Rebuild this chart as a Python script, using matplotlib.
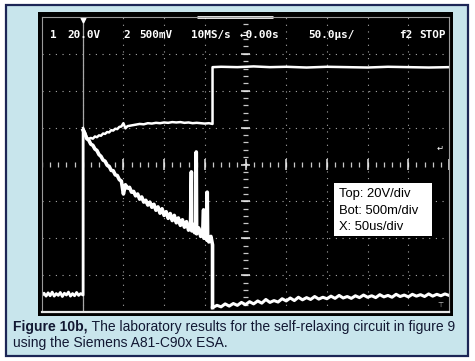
import matplotlib
matplotlib.use("Agg")
from matplotlib import pyplot as plt
from matplotlib.patches import Rectangle
import numpy as np

W, H = 475, 361

# scope screen: 10 x 8 divisions, x in div (50us/div), y in div
# channel 1 (top, 20V/div) after the trigger
ch1_x = [1.01, 1.05, 1.10, 1.15, 1.20, 1.25, 1.30, 1.35, 1.40, 1.45, 1.50, 1.55, 1.60, 1.65,
         1.70, 1.75, 1.80, 1.85, 1.90, 1.95, 2.00, 2.05, 2.10, 2.20, 2.30, 2.40, 2.50, 2.60,
         2.70, 2.80, 2.90, 3.00, 3.10, 3.20, 3.30, 3.40, 3.50, 3.60, 3.70, 3.80, 3.90, 4.00,
         4.10, 4.19, 4.19, 4.40, 4.80, 5.20, 5.60, 6.00, 6.50, 7.00, 7.50, 8.00, 8.50, 9.00,
         9.50, 10.0]
ch1_y = [0.99, 0.88, 0.72, 0.70, 0.72, 0.70, 0.76, 0.74, 0.79, 0.78, 0.84, 0.83, 0.88, 0.87,
         0.93, 0.92, 0.97, 0.96, 1.02, 1.03, 1.12, 0.98, 1.04, 1.06, 1.08, 1.10, 1.09, 1.12,
         1.11, 1.13, 1.12, 1.14, 1.13, 1.15, 1.14, 1.15, 1.13, 1.14, 1.12, 1.13, 1.12, 1.11,
         1.12, 1.10, 2.64, 2.65, 2.64, 2.66, 2.64, 2.65, 2.63, 2.65, 2.64, 2.63, 2.65, 2.64,
         2.63, 2.64]

# channel 2 (bottom, 500mV/div) before the trigger
ch2_pre_x = [0.00, 0.05, 0.10, 0.15, 0.20, 0.25, 0.30, 0.35, 0.40, 0.45, 0.50, 0.55, 0.60,
             0.65, 0.70, 0.75, 0.80, 0.85, 0.90, 0.95, 1.01, 1.01]
ch2_pre_y = [-3.55, -3.49, -3.57, -3.48, -3.56, -3.46, -3.57, -3.50, -3.55, -3.47, -3.58,
             -3.49, -3.54, -3.46, -3.57, -3.50, -3.56, -3.47, -3.55, -3.50, -3.54, 0.93]

# channel 2 decay with the spikes near the switch-off
ch2_x = [1.01, 1.05, 1.10, 1.15, 1.20, 1.25, 1.30, 1.35, 1.40, 1.45, 1.50, 1.55, 1.60, 1.65,
         1.70, 1.75, 1.80, 1.85, 1.90, 1.95, 2.00, 2.05, 2.10, 2.15, 2.20, 2.25, 2.30, 2.35,
         2.40, 2.45, 2.50, 2.55, 2.60, 2.65, 2.70, 2.75, 2.80, 2.85, 2.90, 2.95, 3.00, 3.05,
         3.10, 3.15, 3.20, 3.25, 3.30, 3.35, 3.40, 3.45, 3.50, 3.55, 3.60, 3.65, 3.67, 3.68,
         3.70, 3.75, 3.78, 3.79, 3.80, 3.85, 3.90, 3.95, 3.97, 3.98, 4.00, 4.05, 4.06, 4.07,
         4.10, 4.15, 4.19, 4.19]
ch2_y = [0.93, 0.85, 0.70, 0.66, 0.55, 0.52, 0.42, 0.38, 0.27, 0.22, 0.12, 0.09, -0.02, -0.05,
         -0.16, -0.17, -0.28, -0.30, -0.41, -0.45, -0.80, -0.55, -0.64, -0.62, -0.75, -0.73,
         -0.85, -0.80, -0.94, -0.88, -1.02, -0.97, -1.10, -1.02, -1.16, -1.08, -1.24, -1.15,
         -1.32, -1.20, -1.38, -1.28, -1.46, -1.33, -1.52, -1.38, -1.58, -1.45, -1.65, -1.50,
         -1.70, -1.55, -1.78, -1.60, -0.20, -1.80, -1.62, -1.85, -1.70, 0.34, -1.88, -1.72,
         -1.95, -1.80, -1.23, -2.00, -1.85, -2.05, -0.75, -2.00, -2.10, -1.95, -2.18, -3.88]

# channel 2 after the switch-off
ch2_post_x = [4.19, 4.3, 4.4, 4.5, 4.6, 4.7, 4.8, 4.9, 5.0, 5.1, 5.2, 5.3, 5.4, 5.5, 5.6, 5.7,
              5.8, 5.9, 6.0, 6.1, 6.2, 6.3, 6.4, 6.5, 6.6, 6.7, 6.8, 6.9, 7.0, 7.1, 7.2, 7.3,
              7.4, 7.5, 7.6, 7.7, 7.8, 7.9, 8.0, 8.1, 8.2, 8.3, 8.4, 8.5, 8.6, 8.7, 8.8, 8.9,
              9.0, 9.1, 9.2, 9.3, 9.4, 9.5, 9.6, 9.7, 9.8, 9.9, 10.0]
ch2_post_y = [-3.88, -3.82, -3.86, -3.78, -3.84, -3.77, -3.82, -3.74, -3.80, -3.72, -3.78,
              -3.70, -3.76, -3.66, -3.74, -3.69, -3.73, -3.64, -3.70, -3.62, -3.69, -3.60,
              -3.67, -3.61, -3.66, -3.58, -3.65, -3.60, -3.64, -3.57, -3.63, -3.55, -3.62,
              -3.58, -3.63, -3.56, -3.61, -3.54, -3.60, -3.56, -3.61, -3.53, -3.59, -3.55,
              -3.60, -3.52, -3.58, -3.54, -3.59, -3.52, -3.57, -3.53, -3.58, -3.51, -3.57,
              -3.52, -3.56, -3.51, -3.55]

trig_x = 1.01
header = [(0.20, "1"), (0.62, "20.0V"), (2.00, "2"), (2.39, "500mV"), (3.66, "10MS/s"),
          (4.86, "\u21900.00s"), (6.53, "50.0\u00b5s/"), (8.77, "f2"), (9.26, "STOP")]
legend_lines = ["Top: 20V/div", "Bot: 500m/div", "X: 50us/div"]
caption_bold = "Figure 10b,"
caption_1 = " The laboratory results for the self-relaxing circuit in figure 9"
caption_2 = "using the Siemens A81-C90x ESA."

fig = plt.figure(figsize=(W / 100, H / 100), dpi=100)
fig.patch.set_facecolor("white")

def fr(x0, y0, x1, y1):
    # pixel box -> figure fraction rectangle
    return (x0 / W, 1 - y1 / H), (x1 - x0) / W, (y1 - y0) / H

xy, w, h = fr(6, 5, 468, 356)
fig.patches.append(Rectangle(xy, w, h, transform=fig.transFigure, facecolor="#c8e5ec",
                             edgecolor="#1d2656", lw=1.6, zorder=-3))
xy, w, h = fr(38, 12, 453, 316)
fig.patches.append(Rectangle(xy, w, h, transform=fig.transFigure, facecolor="black",
                             edgecolor="none", zorder=-2))

xy, w, h = fr(42, 17, 449, 312)
ax = fig.add_axes([xy[0], xy[1], w, h])
ax.set_facecolor("black")
ax.set_xlim(0, 10)
ax.set_ylim(-4, 4)
ax.set_xticks([])
ax.set_yticks([])
for s in ["top", "left", "right"]:
    ax.spines[s].set_color("#9a9a9a")
    ax.spines[s].set_linewidth(0.8)
ax.spines["bottom"].set_color("#e8e8e8")
ax.spines["bottom"].set_linewidth(1.6)

# graticule
dots = (0, (1, 5))
for gx in range(1, 10):
    if gx != 5:
        ax.axvline(gx, color="#a8a8a8", lw=0.8, ls=dots)
for gy in range(-3, 4):
    if gy != 0:
        ax.axhline(gy, color="#a8a8a8", lw=0.8, ls=dots)
minor_x = np.arange(0, 10.01, 0.2)
minor_y = np.arange(-4, 4.01, 0.2)
ax.vlines(minor_x, -0.06, 0.06, color="#c8c8c8", lw=0.9)
ax.vlines(np.arange(0, 11), -0.15, 0.15, color="#e8e8e8", lw=1.1)
ax.hlines(minor_y, 4.93, 5.07, color="#c8c8c8", lw=0.9)
ax.hlines(np.arange(-4, 5), 4.88, 5.12, color="#e8e8e8", lw=1.1)

# trigger line and marker
ax.axvline(trig_x, color="#a8a8a8", lw=0.9)
ax.plot([trig_x], [3.93], marker="v", color="white", ms=3.5, clip_on=False)
ax.hlines(4.0, 3.82, 5.67, color="white", lw=2.0, clip_on=False)

# traces
ax.plot(ch2_pre_x, ch2_pre_y, color="white", lw=2.0)
ax.plot(ch2_x, ch2_y, color="white", lw=2.6)
ax.plot(ch2_post_x, ch2_post_y, color="white", lw=2.2)
ax.plot(ch1_x, ch1_y, color="white", lw=1.8)

# header text on the screen
for hx, txt in header:
    ax.text(hx, 3.43, txt, color="white", fontsize=7.9, family="DejaVu Sans Mono",
            fontweight="bold", va="baseline", ha="left")

ax.text(9.78, 0.45, "\u21b5", color="white", fontsize=6, ha="center", va="center")
ax.text(9.78, -3.80, "\u22a4", color="#cccccc", fontsize=5, ha="center", va="center")

# scale box
ax.add_patch(Rectangle((7.17, -1.94), 2.41, 1.44, facecolor="white", edgecolor="none", zorder=5))
for i, txt in enumerate(legend_lines):
    ax.text(7.29, -0.88 - 0.45 * i, txt, color="black", fontsize=9.4, family="Liberation Sans",
            va="baseline", ha="left", zorder=6)

# caption
t = fig.text(13 / W, 1 - 331 / H, caption_bold, fontsize=10, fontweight="bold",
             family="Liberation Sans", color="#121833", va="baseline")
fig.canvas.draw()
bb = t.get_window_extent(fig.canvas.get_renderer())
fig.text(bb.x1 / W, 1 - 331 / H, caption_1, fontsize=10, family="Liberation Sans",
         color="#121833", va="baseline")
fig.text(13 / W, 1 - 347 / H, caption_2, fontsize=10, family="Liberation Sans",
         color="#121833", va="baseline")

fig.savefig("out.png", dpi=100, facecolor="white")
